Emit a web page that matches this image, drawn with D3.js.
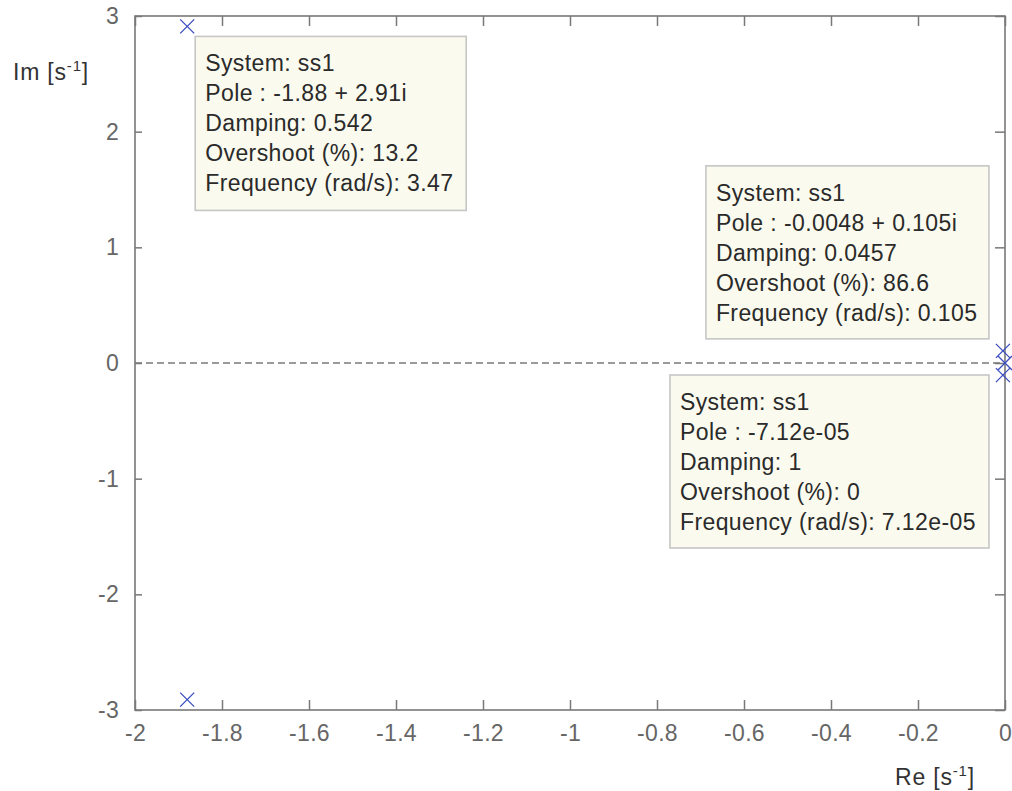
<!DOCTYPE html>
<html>
<head>
<meta charset="utf-8">
<script src="https://cdn.jsdelivr.net/npm/d3@7"></script>
<style>
  html, body { margin: 0; padding: 0; background: #ffffff; }
  svg { display: block; font-family: "Liberation Sans", Arial, Helvetica, sans-serif; }
</style>
</head>
<body>
<svg id="chart" width="1012" height="791"></svg>
<script>
// Pole locations of system ss1 (real and imaginary parts, s^-1)
const poleRe = [-1.88, -1.88, -0.0048, -0.0048, -7.12e-5];
const poleIm = [2.91, -2.91, 0.105, -0.105, 0];

// Axis ticks
const xTickValues = [-2, -1.8, -1.6, -1.4, -1.2, -1, -0.8, -0.6, -0.4, -0.2, 0];
const xTickLabels = ["-2", "-1.8", "-1.6", "-1.4", "-1.2", "-1", "-0.8", "-0.6", "-0.4", "-0.2", "0"];
const yTickValues = [-3, -2, -1, 0, 1, 2, 3];
const yTickLabels = ["-3", "-2", "-1", "0", "1", "2", "3"];

// Data tip contents, each attached to one pole (index into the pole arrays)
const tipPole = [0, 2, 4];
const tipText = [
  ["System: ss1", "Pole : -1.88 + 2.91i", "Damping: 0.542", "Overshoot (%): 13.2", "Frequency (rad/s): 3.47"],
  ["System: ss1", "Pole : -0.0048 + 0.105i", "Damping: 0.0457", "Overshoot (%): 86.6", "Frequency (rad/s): 0.105"],
  ["System: ss1", "Pole : -7.12e-05", "Damping: 1", "Overshoot (%): 0", "Frequency (rad/s): 7.12e-05"]
];

const svg = d3.select("#chart");
const plot = { left: 135, right: 1005, top: 16, bottom: 710 };

const x = d3.scaleLinear().domain([-2, 0]).range([plot.left, plot.right]);
const y = d3.scaleLinear().domain([-3, 3]).range([plot.bottom, plot.top]);

const axisColor = "#787878";
const labelColor = "#666666";
const fontSize = 23;

// Zero line of the imaginary axis
svg.append("line")
  .attr("x1", plot.left).attr("x2", plot.right)
  .attr("y1", y(0)).attr("y2", y(0))
  .attr("stroke", "#7a7a7a").attr("stroke-width", 1.3)
  .attr("stroke-dasharray", "7,4");

// Axes: ticks point inward on all four sides
function styleAxis(g) {
  g.select(".domain").remove();
  g.selectAll(".tick line").attr("stroke", axisColor).attr("stroke-width", 1.5);
  g.selectAll(".tick text")
    .attr("fill", labelColor)
    .style("font-size", fontSize + "px")
    .style("letter-spacing", "0.3px")
    .style("font-family", "'Liberation Sans', Arial, sans-serif");
}

const bottomAxis = d3.axisBottom(x).tickValues(xTickValues)
  .tickFormat((d, i) => xTickLabels[i]).tickSizeInner(-10).tickSizeOuter(0).tickPadding(15);
svg.append("g").attr("transform", `translate(0,${plot.bottom})`).call(bottomAxis).call(styleAxis);

const topAxis = d3.axisTop(x).tickValues(xTickValues)
  .tickFormat("").tickSizeInner(-10).tickSizeOuter(0);
svg.append("g").attr("transform", `translate(0,${plot.top})`).call(topAxis).call(styleAxis);

const leftAxis = d3.axisLeft(y).tickValues(yTickValues)
  .tickFormat((d, i) => yTickLabels[i]).tickSizeInner(-7).tickSizeOuter(0).tickPadding(16);
svg.append("g").attr("transform", `translate(${plot.left},0)`).call(leftAxis).call(styleAxis);

const rightAxis = d3.axisRight(y).tickValues(yTickValues)
  .tickFormat("").tickSizeInner(-10).tickSizeOuter(0);
svg.append("g").attr("transform", `translate(${plot.right},0)`).call(rightAxis).call(styleAxis);

// Plot frame
svg.append("rect")
  .attr("x", plot.left).attr("y", plot.top)
  .attr("width", plot.right - plot.left).attr("height", plot.bottom - plot.top)
  .attr("fill", "none").attr("stroke", axisColor).attr("stroke-width", 1.6);

// Pole markers (x)
const m = 7;
const poles = poleRe.map((re, i) => ({ re, im: poleIm[i] }));
svg.append("g").selectAll("path").data(poles).join("path")
  .attr("d", d => {
    const cx = x(d.re), cy = y(d.im);
    return `M${cx - m},${cy - m}L${cx + m},${cy + m}M${cx - m},${cy + m}L${cx + m},${cy - m}`;
  })
  .attr("stroke", "#3a4cc0").attr("stroke-width", 1.3).attr("fill", "none");

// Data tips: box corner placed relative to its pole
const tipLayout = [
  { dx: 8, dy: 10, w: 271, h: 174, anchor: "topleft" },
  { dx: -14, dy: -12, w: 283, h: 173, anchor: "bottomright" },
  { dx: -16, dy: 12, w: 319, h: 173, anchor: "topright" }
];

tipPole.forEach((pi, k) => {
  const L = tipLayout[k];
  const px = x(poleRe[pi]), py = y(poleIm[pi]);
  let bx, by;
  if (L.anchor === "topleft") { bx = px + L.dx; by = py + L.dy; }
  else if (L.anchor === "bottomright") { bx = px + L.dx - L.w; by = py + L.dy - L.h; }
  else { bx = px + L.dx - L.w; by = py + L.dy; }
  const g = svg.append("g").attr("transform", `translate(${bx},${by})`);
  g.append("rect")
    .attr("width", L.w).attr("height", L.h)
    .attr("fill", "#fafaee").attr("stroke", "#c6c6c6").attr("stroke-width", 1.6);
  g.selectAll("text").data(tipText[k]).join("text")
    .attr("x", 10)
    .attr("y", (d, i) => 35 + i * 30)
    .attr("fill", "#2a2a2a")
    .style("font-size", fontSize + "px")
    .style("letter-spacing", "0.4px")
    .text(d => d);
});

// Axis titles with superscript units
function unitLabel(sel, name) {
  sel.append("tspan").text(name + " [s");
  sel.append("tspan").attr("dy", -9).style("font-size", "15px").text("-1");
  sel.append("tspan").attr("dy", 9).text("]");
}
svg.append("text")
  .attr("x", 13).attr("y", 80)
  .attr("fill", "#333333").style("font-size", fontSize + "px")
  .style("letter-spacing", "0.8px")
  .call(unitLabel, "Im");
svg.append("text")
  .attr("x", 895).attr("y", 785)
  .attr("fill", "#333333").style("font-size", fontSize + "px")
  .style("letter-spacing", "0.8px")
  .call(unitLabel, "Re");
</script>
</body>
</html>
